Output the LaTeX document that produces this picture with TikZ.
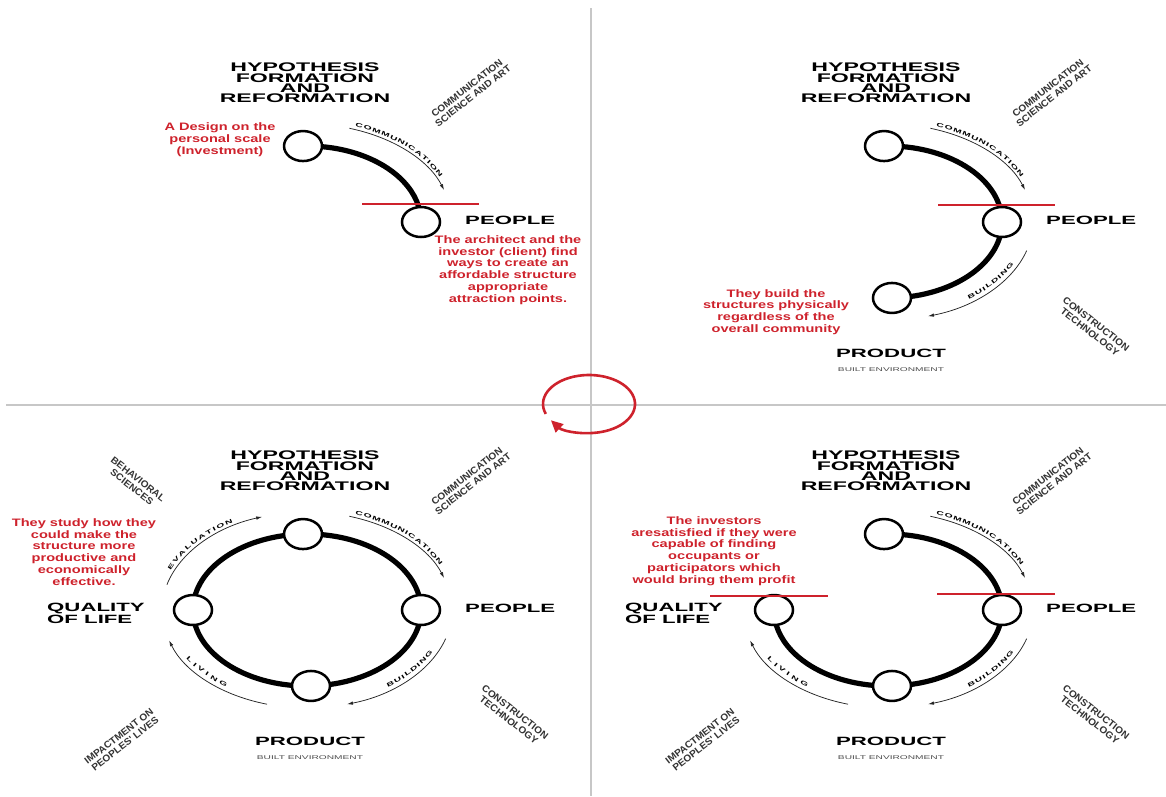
\documentclass[tikz,border=0pt]{standalone}
\usepackage{fontspec}
\usepackage{tikz}
\usetikzlibrary{positioning,arrows.meta,shapes.geometric,calc,decorations.text}
\usepackage{xcolor}

\newfontfamily\headfont[FakeStretch=1.85]{Liberation Sans}
\newfontfamily\notefont[FakeStretch=1.35]{Liberation Sans}
\newfontfamily\fieldfont[FakeStretch=1.05]{Liberation Sans}
\newcommand{\arcfont}{\headfont\bfseries\fontsize{5.6}{6}\selectfont}
\definecolor{notered}{RGB}{206,34,44}

\begin{document}
\begin{tikzpicture}[
  x=1pt, y=-1pt,
  hub/.style={ellipse, draw, fill=white, line width=2.5pt, minimum width=38pt, minimum height=30pt, inner sep=0pt},
  ring/.style={line width=5.2pt},
  flow/.style={-{Latex[length=6pt,width=3.5pt]}, line width=0.75pt, black!85},
  heading/.style={font=\headfont\bfseries\fontsize{12.5}{10.4}\selectfont, align=center, inner sep=0pt},
  pole/.style={font=\headfont\bfseries\fontsize{12}{10.4}\selectfont, align=left, inner sep=0pt},
  subpole/.style={font=\headfont\fontsize{5.5}{6}\selectfont, text=black!70, inner sep=0pt},
  field/.style={font=\fieldfont\bfseries\fontsize{9.6}{10}\selectfont, text=black!80, align=center, inner sep=0pt},
  note/.style={font=\notefont\bfseries\fontsize{10.8}{11.8}\selectfont, text=notered, align=center, inner sep=0pt},
  cut/.style={notered, line width=1.3pt},
  axis/.style={black!22, line width=1.6pt},
  outtext/.style={decorate, decoration={text along path, text align={fit to path}, text={|\arcfont|#1}}},
]
  \useasboundingbox (0,0) rectangle (1166,796);

  % quadrant axes and the turning loop
  \draw[axis] (591,8) -- (591,796);
  \draw[axis] (6,405) -- (1166,405);
  \coordinate (loop) at (589,404);
  \draw[notered, line width=2.6pt, -{Triangle[length=12pt,width=11pt]}]
    ($(loop)+(160:46 and 29)$) arc[start angle=160, end angle=506, x radius=46, y radius=29];

  % ---- top left: design ----
  \begin{scope}[shift={(307,222)}]
    \draw[ring] (268:114 and 76) arc[start angle=268, end angle=360, x radius=114, y radius=76];
    \node[hub] (tl-hyp) at (268:114 and 76) {};
    \node[hub] (tl-peo) at (0:114 and 76) {};
    \node[heading] (tl-title) at (-2,-139) {HYPOTHESIS\\FORMATION\\AND\\REFORMATION};
    \node[field, rotate=38] (tl-art) at (163,-130) {COMMUNICATION\\SCIENCE AND ART};
    \node[pole, anchor=west] (tl-people) at (158,-2) {PEOPLE};
    \draw[flow] (287:145 and 98) arc[start angle=287, end angle=341, x radius=145, y radius=98];
    \path[outtext=COMMUNICATION] (289:148 and 101) arc[start angle=289, end angle=334, x radius=148, y radius=101];
    \draw[cut] (55,-18) -- (172,-18);
    \node[note] (tl-scale) at (-87,-82) {A Design on the\\personal scale\\(Investment)};
    \node[note] (tl-client) at (201,48) {The architect and the\\investor (client) find\\ways to create an\\affordable structure\\appropriate\\attraction points.};
  \end{scope}

  % ---- top right: building ----
  \begin{scope}[shift={(888,222)}]
    \draw[ring] (268:114 and 76) arc[start angle=268, end angle=448, x radius=114, y radius=76];
    \node[hub] (tr-hyp) at (268:114 and 76) {};
    \node[hub] (tr-peo) at (0:114 and 76) {};
    \node[hub] (tr-pro) at (88:114 and 76) {};
    \node[heading] (tr-title) at (-2,-139) {HYPOTHESIS\\FORMATION\\AND\\REFORMATION};
    \node[field, rotate=38] (tr-art) at (163,-130) {COMMUNICATION\\SCIENCE AND ART};
    \node[field, rotate=-38] (tr-tech) at (205,106) {CONSTRUCTION\\TECHNOLOGY};
    \node[pole, anchor=west] (tr-people) at (158,-2) {PEOPLE};
    \node[pole] (tr-product) at (3,131) {PRODUCT};
    \node[subpole] (tr-built) at (3,148) {BUILT ENVIRONMENT};
    \draw[flow] (287:145 and 98) arc[start angle=287, end angle=341, x radius=145, y radius=98];
    \path[outtext=COMMUNICATION] (289:148 and 101) arc[start angle=289, end angle=334, x radius=148, y radius=101];
    \draw[flow] (17:145 and 98) arc[start angle=17, end angle=74, x radius=145, y radius=98];
    \path[outtext=BUILDING] (55:141 and 94) arc[start angle=55, end angle=27, x radius=141, y radius=94];
    \draw[cut] (50,-17) -- (167,-17);
    \node[note] (tr-phys) at (-112,90) {They build the\\structures physically\\regardless of the\\overall community};
  \end{scope}

  % ---- bottom left: full cycle ----
  \begin{scope}[shift={(307,610)}]
    \draw[ring] (0,0) ellipse[x radius=114, y radius=76];
    \node[hub] (bl-hyp) at (268:114 and 76) {};
    \node[hub] (bl-peo) at (0:114 and 76) {};
    \node[hub] (bl-pro) at (88:114 and 76) {};
    \node[hub] (bl-qol) at (180:114 and 76) {};
    \node[heading] (bl-title) at (-2,-139) {HYPOTHESIS\\FORMATION\\AND\\REFORMATION};
    \node[field, rotate=38] (bl-art) at (163,-130) {COMMUNICATION\\SCIENCE AND ART};
    \node[field, rotate=-38] (bl-tech) at (205,106) {CONSTRUCTION\\TECHNOLOGY};
    \node[field, rotate=-38] (bl-beh) at (-172,-127) {BEHAVIORAL\\SCIENCES};
    \node[field, rotate=38] (bl-imp) at (-185,130) {IMPACTMENT ON\\PEOPLES' LIVES};
    \node[pole, anchor=west] (bl-people) at (158,-2) {PEOPLE};
    \node[pole] (bl-product) at (3,131) {PRODUCT};
    \node[subpole] (bl-built) at (3,148) {BUILT ENVIRONMENT};
    \node[pole, anchor=west] (bl-quality) at (-260,3) {QUALITY\\OF LIFE};
    \draw[flow] (287:145 and 98) arc[start angle=287, end angle=341, x radius=145, y radius=98];
    \path[outtext=COMMUNICATION] (289:148 and 101) arc[start angle=289, end angle=334, x radius=148, y radius=101];
    \draw[flow] (17:145 and 98) arc[start angle=17, end angle=74, x radius=145, y radius=98];
    \path[outtext=BUILDING] (55:141 and 94) arc[start angle=55, end angle=27, x radius=141, y radius=94];
    \draw[flow] (106:145 and 98) arc[start angle=106, end angle=162, x radius=145, y radius=98];
    \path[outtext=LIVING] (149:141 and 94) arc[start angle=149, end angle=125, x radius=141, y radius=94];
    \draw[flow] (195:145 and 98) arc[start angle=195, end angle=252, x radius=145, y radius=98];
    \path[outtext=EVALUATION] (203:148 and 101) arc[start angle=203, end angle=240, x radius=148, y radius=101];
    \node[note] (bl-study) at (-223,-58) {They study how they\\could make the\\structure more\\productive and\\economically\\effective.};
  \end{scope}

  % ---- bottom right: investors ----
  \begin{scope}[shift={(888,610)}]
    \draw[ring] (268:114 and 76) arc[start angle=268, end angle=540, x radius=114, y radius=76];
    \node[hub] (br-hyp) at (268:114 and 76) {};
    \node[hub] (br-peo) at (0:114 and 76) {};
    \node[hub] (br-pro) at (88:114 and 76) {};
    \node[hub] (br-qol) at (180:114 and 76) {};
    \node[heading] (br-title) at (-2,-139) {HYPOTHESIS\\FORMATION\\AND\\REFORMATION};
    \node[field, rotate=38] (br-art) at (163,-130) {COMMUNICATION\\SCIENCE AND ART};
    \node[field, rotate=-38] (br-tech) at (205,106) {CONSTRUCTION\\TECHNOLOGY};
    \node[field, rotate=38] (br-imp) at (-185,130) {IMPACTMENT ON\\PEOPLES' LIVES};
    \node[pole, anchor=west] (br-people) at (158,-2) {PEOPLE};
    \node[pole] (br-product) at (3,131) {PRODUCT};
    \node[subpole] (br-built) at (3,148) {BUILT ENVIRONMENT};
    \node[pole, anchor=west] (br-quality) at (-263,3) {QUALITY\\OF LIFE};
    \draw[flow] (287:145 and 98) arc[start angle=287, end angle=341, x radius=145, y radius=98];
    \path[outtext=COMMUNICATION] (289:148 and 101) arc[start angle=289, end angle=334, x radius=148, y radius=101];
    \draw[flow] (17:145 and 98) arc[start angle=17, end angle=74, x radius=145, y radius=98];
    \path[outtext=BUILDING] (55:141 and 94) arc[start angle=55, end angle=27, x radius=141, y radius=94];
    \draw[flow] (106:145 and 98) arc[start angle=106, end angle=162, x radius=145, y radius=98];
    \path[outtext=LIVING] (149:141 and 94) arc[start angle=149, end angle=125, x radius=141, y radius=94];
    \draw[cut] (49,-16) -- (167,-16);
    \draw[cut] (-178,-14) -- (-60,-14);
    \node[note] (br-profit) at (-174,-59) {The investors\\aresatisfied if they were\\capable of finding\\occupants or\\participators which\\would bring them profit};
  \end{scope}
\end{tikzpicture}
\end{document}
